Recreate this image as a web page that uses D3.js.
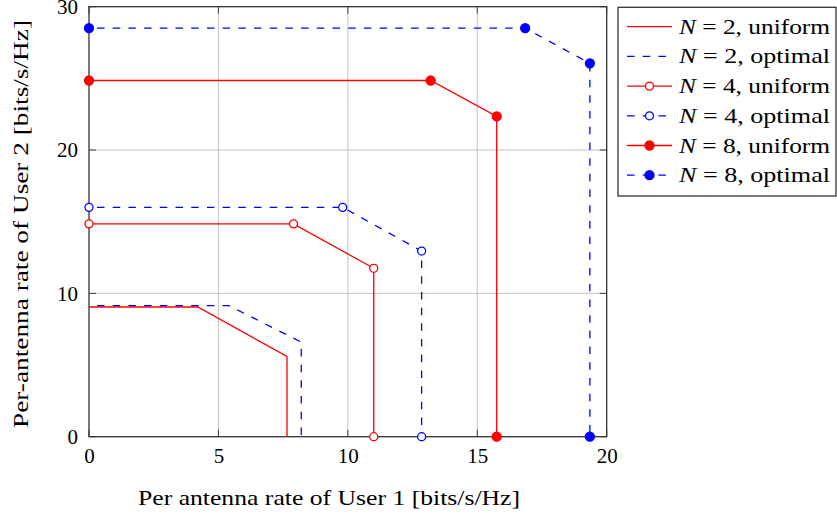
<!DOCTYPE html>
<html>
<head>
<meta charset="utf-8">
<script src="https://cdn.jsdelivr.net/npm/d3@7"></script>
<style>
  html, body { margin: 0; padding: 0; background: #fff; }
  svg { display: block; }
  text { font-family: "Liberation Serif", "Times New Roman", serif; fill: #000; }
</style>
</head>
<body>
<svg id="chart" width="837" height="518"></svg>
<script>
// ---- data ----
const xTicks = [0, 5, 10, 15, 20];
const yTicks = [0, 10, 20, 30];
const seriesN = [2, 2, 4, 4, 8, 8];
const seriesScheme = ["uniform", "optimal", "uniform", "optimal", "uniform", "optimal"];

const n2UniformX = [0, 4.2, 7.65, 7.65];
const n2UniformY = [9.05, 9.05, 5.6, 0];
const n2OptimalX = [0, 5.4, 8.2, 8.2];
const n2OptimalY = [9.15, 9.15, 6.6, 0];
const n4UniformX = [0, 7.9, 11.0, 11.0];
const n4UniformY = [14.85, 14.85, 11.75, 0];
const n4OptimalX = [0, 9.8, 12.85, 12.85];
const n4OptimalY = [16.0, 16.0, 12.95, 0];
const n8UniformX = [0, 13.2, 15.75, 15.75];
const n8UniformY = [24.85, 24.85, 22.35, 0];
const n8OptimalX = [0, 16.85, 19.35, 19.35];
const n8OptimalY = [28.5, 28.5, 26.05, 0];

const seriesX = [n2UniformX, n2OptimalX, n4UniformX, n4OptimalX, n8UniformX, n8OptimalX];
const seriesY = [n2UniformY, n2OptimalY, n4UniformY, n4OptimalY, n8UniformY, n8OptimalY];

// ---- styles ----
const RED = "#ff0000", BLUE = "#0000ff";
const DASH = "7.5,8.2";
const styles = [
  { color: RED,  dash: null, marker: "none" },
  { color: BLUE, dash: DASH, marker: "none" },
  { color: RED,  dash: null, marker: "open" },
  { color: BLUE, dash: DASH, marker: "open" },
  { color: RED,  dash: null, marker: "filled" },
  { color: BLUE, dash: DASH, marker: "filled" }
];

const svg = d3.select("#chart");
const L = 89, R = 606.7, T = 6.7, B = 436.7;
const x = d3.scaleLinear().domain([0, 20]).range([L, R]);
const y = d3.scaleLinear().domain([0, 30]).range([B, T]);

// grid
const grid = svg.append("g");
grid.selectAll("line.gx").data(xTicks.slice(1, -1)).join("line")
  .attr("x1", d => x(d)).attr("x2", d => x(d)).attr("y1", T).attr("y2", B)
  .attr("stroke", "#c4c4c4").attr("stroke-width", 1);
grid.selectAll("line.gy").data(yTicks.slice(1, -1)).join("line")
  .attr("y1", d => y(d)).attr("y2", d => y(d)).attr("x1", L).attr("x2", R)
  .attr("stroke", "#c4c4c4").attr("stroke-width", 1);

// ticks (inside, all four sides)
const tl = 7;
const tk = svg.append("g").attr("stroke", "#404040").attr("stroke-width", 1);
xTicks.forEach(d => {
  tk.append("line").attr("x1", x(d)).attr("x2", x(d)).attr("y1", B).attr("y2", B - tl);
  tk.append("line").attr("x1", x(d)).attr("x2", x(d)).attr("y1", T).attr("y2", T + tl);
});
yTicks.forEach(d => {
  tk.append("line").attr("y1", y(d)).attr("y2", y(d)).attr("x1", L).attr("x2", L + tl);
  tk.append("line").attr("y1", y(d)).attr("y2", y(d)).attr("x1", R).attr("x2", R - tl);
});

// frame
svg.append("rect").attr("x", L).attr("y", T).attr("width", R - L).attr("height", B - T)
  .attr("fill", "none").attr("stroke", "#333").attr("stroke-width", 1.3);

// tick labels via d3 axes
const xAxis = d3.axisBottom(x).tickValues(xTicks).tickSize(0).tickPadding(0).tickFormat(d3.format("d"));
const gx = svg.append("g").attr("transform", `translate(0,${B})`).call(xAxis);
gx.select(".domain").remove();
gx.selectAll("text").attr("font-size", 21).attr("fill", "#000").attr("dy", null).attr("y", 26);

const yAxis = d3.axisLeft(y).tickValues(yTicks).tickSize(0).tickPadding(11).tickFormat(d3.format("d"));
const gy = svg.append("g").attr("transform", `translate(${L},0)`).call(yAxis);
gy.select(".domain").remove();
gy.selectAll("text").attr("font-size", 21).attr("fill", "#000").attr("dy", "0.33em");

// axis titles
svg.append("text").attr("x", 329).attr("y", 505).attr("text-anchor", "middle")
  .attr("font-size", 21).attr("textLength", 382).attr("lengthAdjust", "spacingAndGlyphs")
  .text("Per antenna rate of User 1 [bits/s/Hz]");
svg.append("text").attr("transform", "translate(28,224) rotate(-90)").attr("text-anchor", "middle")
  .attr("font-size", 21).attr("textLength", 408).attr("lengthAdjust", "spacingAndGlyphs")
  .text("Per-antenna rate of User 2 [bits/s/Hz]");

// series
const line = d3.line().x(d => x(d[0])).y(d => y(d[1]));
const plot = svg.append("g");
seriesX.forEach((xs, i) => {
  const pts = xs.map((v, j) => [v, seriesY[i][j]]);
  const st = styles[i];
  plot.append("path").datum(pts).attr("d", line).attr("fill", "none")
    .attr("stroke", st.color).attr("stroke-width", 1.3)
    .attr("stroke-dasharray", st.dash).attr("stroke-dashoffset", st.dash ? -8 : null);
  if (st.marker !== "none") {
    plot.selectAll(null).data(pts).join("circle")
      .attr("cx", d => x(d[0])).attr("cy", d => y(d[1]))
      .attr("r", st.marker === "filled" ? 4.5 : 4)
      .attr("fill", st.marker === "filled" ? st.color : "#fff")
      .attr("stroke", st.color).attr("stroke-width", 1.3);
  }
});

// legend
const lg = svg.append("g");
lg.append("rect").attr("x", 618).attr("y", 7.3).attr("width", 218).attr("height", 188.7)
  .attr("fill", "#fff").attr("stroke", "#333").attr("stroke-width", 1.3);
seriesN.forEach((n, i) => {
  const cy = 26.7 + i * 29.7;
  const st = styles[i];
  lg.append("line").attr("x1", 627).attr("x2", 672).attr("y1", cy).attr("y2", cy)
    .attr("stroke", st.color).attr("stroke-width", 1.3).attr("stroke-dasharray", st.dash);
  if (st.marker !== "none") {
    lg.append("circle").attr("cx", 649.5).attr("cy", cy).attr("r", st.marker === "filled" ? 4.5 : 4)
      .attr("fill", st.marker === "filled" ? st.color : "#fff")
      .attr("stroke", st.color).attr("stroke-width", 1.3);
  }
  const t = lg.append("text").attr("x", 679).attr("y", cy + 7).attr("font-size", 21)
    .attr("textLength", 151).attr("lengthAdjust", "spacingAndGlyphs");
  t.append("tspan").attr("font-style", "italic").text("N");
  t.append("tspan").text(" = " + n + ", " + seriesScheme[i]);
});
</script>
</body>
</html>
